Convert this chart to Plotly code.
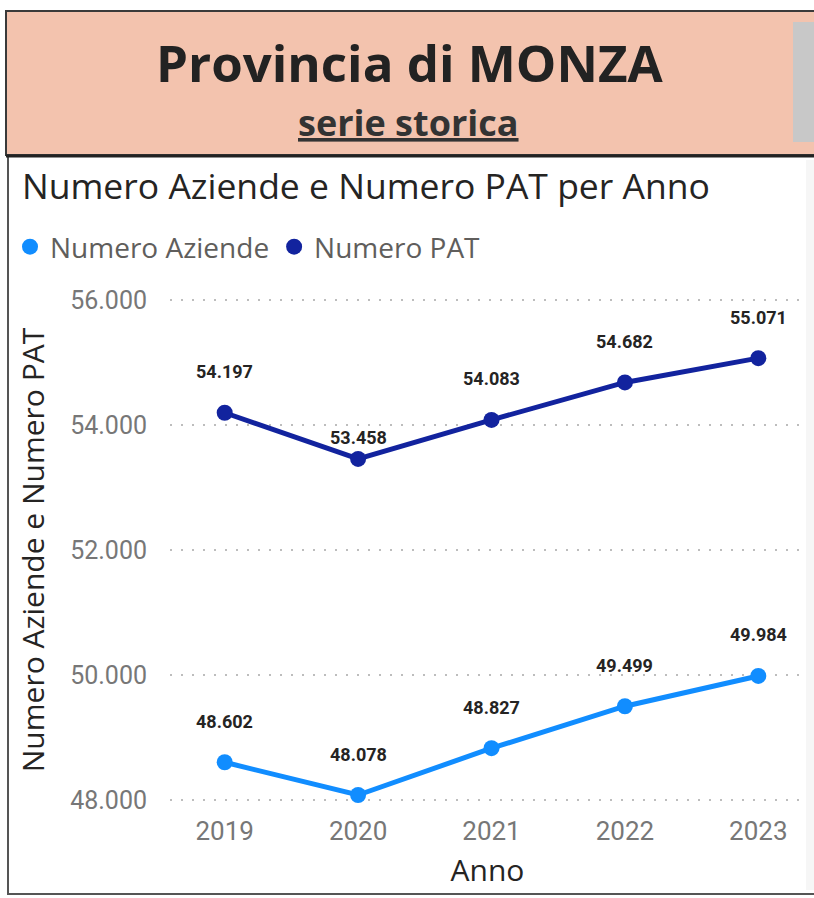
import plotly.graph_objects as go

# ---- data ----
anni = ["2019", "2020", "2021", "2022", "2023"]
numero_aziende = [48602, 48078, 48827, 49499, 49984]
numero_pat = [54197, 53458, 54083, 54682, 55071]
y_ticks = [48000, 50000, 52000, 54000, 56000]

W, H = 814, 898
L, R, T, B = 170, 805, 297, 803  # plot area in pixels

def px(x):
    return (x - L) / (R - L)

def py(y):
    return (B - y) / (B - T)

C_AZ = "#118DFF"
C_PAT = "#12239E"

fig = go.Figure()
fig.add_trace(go.Scatter(
    x=anni, y=numero_aziende, name="Numero Aziende", mode="lines+markers",
    line=dict(color=C_AZ, width=5), marker=dict(size=16, color=C_AZ), showlegend=False,
))
fig.add_trace(go.Scatter(
    x=anni, y=numero_pat, name="Numero PAT", mode="lines+markers",
    line=dict(color=C_PAT, width=5), marker=dict(size=16, color=C_PAT), showlegend=False,
))
# legend entries (markers only, like the original legend)
fig.add_trace(go.Scatter(x=[None], y=[None], name="Numero Aziende", mode="markers",
                         marker=dict(size=21, color=C_AZ)))
fig.add_trace(go.Scatter(x=[None], y=[None], name="Numero PAT", mode="markers",
                         marker=dict(size=21, color=C_PAT)))

def fmt(v):
    return f"{v:,}".replace(",", ".")

label_font = dict(family="Roboto, sans-serif", size=18, color="#252423")
pat_shift = [41, 21, 41, 41, 41]
for i, a in enumerate(anni):
    fig.add_annotation(x=i, y=numero_aziende[i], text="<b>" + fmt(numero_aziende[i]) + "</b>",
                       showarrow=False, yshift=41, font=label_font)
    fig.add_annotation(x=i, y=numero_pat[i], text="<b>" + fmt(numero_pat[i]) + "</b>",
                       showarrow=False, yshift=pat_shift[i], font=label_font)

shapes = []
# header box
shapes.append(dict(type="rect", xref="paper", yref="paper",
                   x0=px(6), x1=px(830), y0=py(155), y1=py(11),
                   fillcolor="#F3C3AE", line=dict(color="#3a3a3a", width=2), layer="below"))
shapes.append(dict(type="rect", xref="paper", yref="paper",
                   x0=px(793), x1=px(830), y0=py(142), y1=py(22),
                   fillcolor="#C8C8C8", line=dict(width=0), layer="below"))
# light strip on right of chart panel
shapes.append(dict(type="rect", xref="paper", yref="paper",
                   x0=px(806), x1=px(830), y0=py(890), y1=py(160),
                   fillcolor="#F6F6F6", line=dict(width=0), layer="below"))
# chart panel border
shapes.append(dict(type="rect", xref="paper", yref="paper",
                   x0=px(8), x1=px(830), y0=py(894), y1=py(156),
                   fillcolor="rgba(0,0,0,0)", line=dict(color="#555555", width=2), layer="below"))
shapes.append(dict(type="line", xref="paper", yref="paper",
                   x0=px(6), x1=px(830), y0=py(156), y1=py(156),
                   line=dict(color="#222222", width=3)))

title_font = "Open Sans, DejaVu Sans, sans-serif"
annotations_extra = [
    dict(text="<b>Provincia di MONZA</b>", x=px(409), y=py(62), xref="paper", yref="paper",
         showarrow=False, font=dict(family=title_font, size=51, color="#222222"),
         xanchor="center", yanchor="middle"),
    dict(text="<b><u>serie storica</u></b>", x=px(408), y=py(122), xref="paper", yref="paper",
         showarrow=False, font=dict(family=title_font, size=36, color="#333333"),
         xanchor="center", yanchor="middle"),
    dict(text="Numero Aziende e Numero PAT per Anno", x=px(20), y=py(185), xref="paper", yref="paper",
         showarrow=False, font=dict(family=title_font, size=35.5, color="#252423"),
         xanchor="left", yanchor="middle"),
]
for a in annotations_extra:
    fig.add_annotation(**a)

fig.update_layout(
    width=W, height=H,
    margin=dict(l=L, r=W - R, t=T, b=H - B),
    paper_bgcolor="white", plot_bgcolor="white",
    separators=",.",
    showlegend=True,
    legend=dict(orientation="h", x=px(10), y=py(247), xanchor="left", yanchor="middle",
                font=dict(family=title_font, size=28, color="#605E5C"),
                itemsizing="trace", itemwidth=30, tracegroupgap=0,
                bgcolor="rgba(0,0,0,0)"),
    shapes=shapes,
    xaxis=dict(type="category", range=[-0.41, 4.35], showgrid=False, zeroline=False,
               showline=False, ticks="", ticklabelstandoff=10,
               tickfont=dict(family="Roboto, sans-serif", size=26, color="#777777"),
               title=dict(text="Anno", standoff=14,
                          font=dict(family=title_font, size=30, color="#252423"))),
    yaxis=dict(range=[47950, 56050], tickvals=y_ticks, tickformat=",d",
               showgrid=True, gridcolor="#BDBDBD", griddash="2px,9px", gridwidth=2,
               zeroline=False, showline=False, ticks="", ticklabelstandoff=22,
               tickfont=dict(family="Roboto, sans-serif", size=25, color="#777777"),
               title=dict(text="Numero Aziende e Numero PAT", standoff=16,
                          font=dict(family=title_font, size=30, color="#252423"))),
)

fig.write_html("out.html", post_script="document.body.style.margin='0';",
               config={"displayModeBar": False})
